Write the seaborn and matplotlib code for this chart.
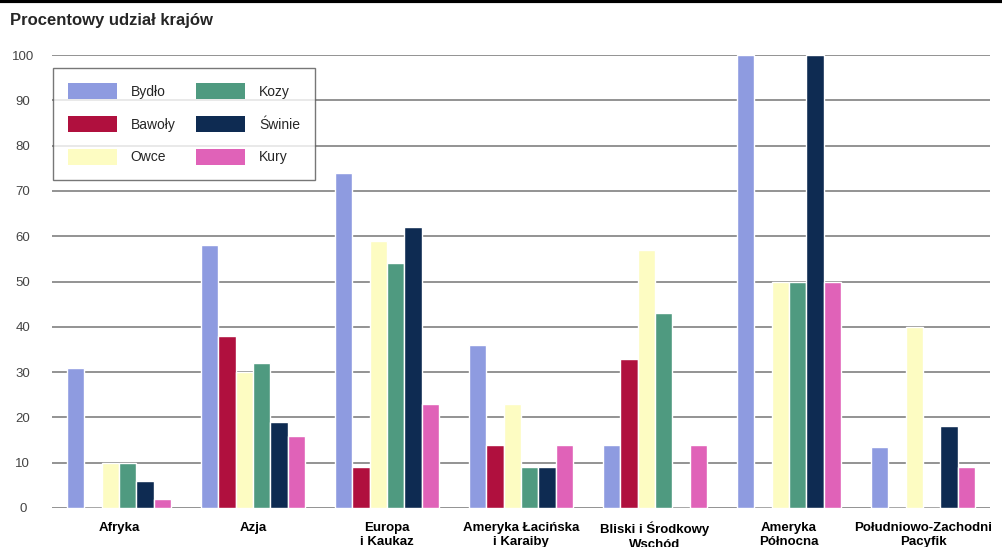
"""
Procentowy udział krajów - grouped bar chart (livestock by region).
"""

import matplotlib
matplotlib.use("Agg")
import matplotlib.pyplot as plt
import pandas as pd
import seaborn as sns
from matplotlib.patches import Patch

REGIONS = [
    "Afryka",
    "Azja",
    "Europa\ni Kaukaz",
    "Ameryka Łacińska\ni Karaiby",
    "Bliski i Środkowy\nWschód",
    "Ameryka\nPółnocna",
    "Południowo-Zachodni\nPacyfik",
]
ANIMALS = ["Bydło", "Bawoły", "Owce", "Kozy", "Świnie", "Kury"]

BYDLO = [31, 58, 74, 36, 14, 100, 13.5]
BAWOLY = [0, 38, 9, 14, 33, 0, 0]
OWCE = [10, 30, 59, 23, 57, 50, 40]
KOZY = [10, 32, 54, 9, 43, 50, 0]
SWINIE = [6, 19, 62, 9, 0, 100, 18]
KURY = [2, 16, 23, 14, 14, 50, 9]

COLORS = ["#8e9be0", "#b0103e", "#fdfcc2", "#4f9a80", "#0e2b52", "#e062b8"]
Y_TICKS = [0, 10, 20, 30, 40, 50, 60, 70, 80, 90, 100]


def build_frame() -> pd.DataFrame:
    rows = []
    for animal, values in zip(ANIMALS, [BYDLO, BAWOLY, OWCE, KOZY, SWINIE, KURY]):
        for region, v in zip(REGIONS, values):
            rows.append({"region": region, "animal": animal, "value": v})
    return pd.DataFrame(rows)


def main() -> None:
    sns.set_style("white")
    plt.rcParams["font.family"] = ["Liberation Sans", "DejaVu Sans"]

    df = build_frame()

    fig = plt.figure(figsize=(10.02, 5.47), dpi=100)
    ax = fig.add_axes([52 / 1002, 39 / 547, 938 / 1002, 453 / 547])

    sns.barplot(
        data=df, x="region", y="value", hue="animal",
        order=REGIONS, hue_order=ANIMALS, palette=COLORS,
        saturation=1, width=0.78, dodge=True, legend=False, ax=ax,
        zorder=3,
    )

    ax.set_xlim(-0.5, 6.5)
    ax.set_ylim(0, 100)
    ax.set_yticks(Y_TICKS)
    ax.set_xlabel("")
    ax.set_ylabel("")
    for s in ax.spines.values():
        s.set_visible(False)
    ax.yaxis.grid(True, color="#808080", lw=1.2, zorder=0)
    ax.set_axisbelow(True)

    ax.tick_params(axis="y", length=0, pad=21, labelsize=9.5, labelcolor="#444444")
    for lbl in ax.get_yticklabels():
        lbl.set_ha("center")
    ax.tick_params(axis="x", length=0, pad=10, labelsize=9.5, labelcolor="black")
    for lbl in ax.get_xticklabels():
        lbl.set_fontweight("bold")
        lbl.set_linespacing(1.25)

    handles = [Patch(facecolor=c, edgecolor="none", label=a) for a, c in zip(ANIMALS, COLORS)]
    leg = ax.legend(
        handles=handles, ncol=2, loc="upper left",
        bbox_to_anchor=(53 / 1002, 1 - 68 / 547), bbox_transform=fig.transFigure,
        fontsize=10, frameon=True, fancybox=False, shadow=False,
        handlelength=3.5, handleheight=1.4, labelspacing=1.2,
        handletextpad=1.0, columnspacing=1.5, borderpad=1.1, borderaxespad=0,
    )
    leg.get_frame().set_edgecolor("#555555")
    leg.get_frame().set_linewidth(1.0)
    leg.set_zorder(5)

    fig.text(10 / 1002, 1 - 20 / 547, "Procentowy udział krajów",
             fontsize=12, fontweight="bold", ha="left", va="center")
    fig.add_artist(plt.Line2D([0, 1], [0.998, 0.998], color="black", lw=3,
                              transform=fig.transFigure))

    fig.savefig("out.png", dpi=100, facecolor="white")
    plt.close(fig)


if __name__ == "__main__":
    main()
